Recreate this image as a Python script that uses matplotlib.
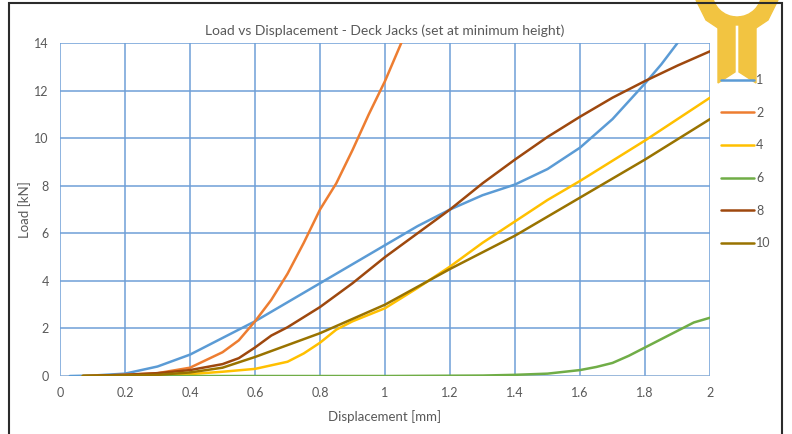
import numpy as np
import matplotlib
matplotlib.use('Agg')
import matplotlib.pyplot as plt
from matplotlib.patches import Rectangle, Polygon, Wedge

plt.rcParams['font.family'] = ['Lato', 'DejaVu Sans']

# ============================================================================
# DATOS
# ============================================================================
x1 = [0.03, 0.1, 0.2, 0.3, 0.4, 0.5, 0.6, 0.7, 0.8, 0.9, 1.0, 1.1, 1.2, 1.3, 1.4, 1.5, 1.6, 1.7, 1.8, 1.85, 1.9]
y1 = [0.0, 0.02, 0.1, 0.4, 0.9, 1.6, 2.3, 3.1, 3.9, 4.7, 5.5, 6.3, 7.0, 7.6, 8.05, 8.7, 9.6, 10.8, 12.3, 13.1, 14.0]

x2 = [0.07, 0.2, 0.3, 0.4, 0.5, 0.55, 0.6, 0.65, 0.7, 0.75, 0.8, 0.85, 0.9, 0.95, 1.0, 1.05]
y2 = [0.0, 0.05, 0.12, 0.35, 1.0, 1.5, 2.3, 3.2, 4.3, 5.6, 7.0, 8.1, 9.5, 11.0, 12.4, 14.0]

x4 = [0.07, 0.3, 0.4, 0.5, 0.6, 0.7, 0.75, 0.8, 0.85, 0.9, 1.0, 1.1, 1.2, 1.3, 1.4, 1.5, 1.6, 1.7, 1.8, 1.9, 2.0]
y4 = [0.0, 0.03, 0.08, 0.18, 0.3, 0.6, 0.95, 1.4, 1.95, 2.3, 2.85, 3.7, 4.6, 5.6, 6.5, 7.4, 8.2, 9.05, 9.9, 10.8, 11.7]

x6 = [0.07, 0.5, 1.0, 1.3, 1.4, 1.5, 1.6, 1.65, 1.7, 1.75, 1.8, 1.85, 1.9, 1.95, 2.0]
y6 = [0.0, 0.0, 0.0, 0.02, 0.05, 0.1, 0.25, 0.38, 0.55, 0.85, 1.2, 1.55, 1.9, 2.25, 2.45]

x8 = [0.07, 0.2, 0.3, 0.4, 0.5, 0.55, 0.6, 0.65, 0.7, 0.8, 0.9, 1.0, 1.1, 1.2, 1.3, 1.4, 1.5, 1.6, 1.7, 1.8, 1.9, 2.0]
y8 = [0.0, 0.05, 0.12, 0.25, 0.5, 0.75, 1.2, 1.7, 2.05, 2.9, 3.9, 5.0, 6.0, 7.0, 8.1, 9.1, 10.05, 10.9, 11.7, 12.4, 13.05, 13.65]

x10 = [0.07, 0.3, 0.4, 0.5, 0.6, 0.7, 0.8, 0.85, 0.9, 1.0, 1.1, 1.2, 1.3, 1.4, 1.5, 1.6, 1.7, 1.8, 1.9, 2.0]
y10 = [0.0, 0.05, 0.15, 0.35, 0.8, 1.3, 1.8, 2.1, 2.4, 3.0, 3.75, 4.5, 5.2, 5.9, 6.7, 7.5, 8.3, 9.1, 9.95, 10.8]

series = [('1', x1, y1, '#5b9bd5'),
          ('2', x2, y2, '#ed7d31'),
          ('4', x4, y4, '#ffc000'),
          ('6', x6, y6, '#70ad47'),
          ('8', x8, y8, '#9e480e'),
          ('10', x10, y10, '#997300')]

xticks = [0, 0.2, 0.4, 0.6, 0.8, 1, 1.2, 1.4, 1.6, 1.8, 2]
xticklabels = ['0', '0.2', '0.4', '0.6', '0.8', '1', '1.2', '1.4', '1.6', '1.8', '2']
yticks = [0, 2, 4, 6, 8, 10, 12, 14]

# ============================================================================
# GRAFICO
# ============================================================================
fig = plt.figure(figsize=(7.92, 4.34), dpi=100)
ax = fig.add_axes([0.0758, 0.1336, 0.8207, 0.7674])

for name, xs, ys, c in series:
    ax.plot(xs, ys, color=c, linewidth=1.8, label=name, solid_capstyle='round')

ax.set_xlim(0, 2)
ax.set_ylim(0, 14)
ax.set_xticks(xticks)
ax.set_xticklabels(xticklabels)
ax.set_yticks(yticks)
ax.grid(True, color='#6fa0d8', linewidth=1.3, alpha=0.85)
ax.set_axisbelow(True)
for s in ax.spines.values():
    s.set_visible(False)
ax.axhline(0, color='#d0d0d0', linewidth=1, zorder=1)
ax.tick_params(length=0, colors='#595959', labelsize=9, pad=8)
ax.set_xlabel('Displacement [mm]', color='#595959', fontsize=9.5, labelpad=8)
ax.set_ylabel('Load [kN]', color='#595959', fontsize=9.5, labelpad=2)
ax.set_title('Load vs Displacement - Deck Jacks (set at minimum height)',
             color='#595959', fontsize=10, pad=6)

leg = ax.legend(loc='upper left', bbox_to_anchor=(1.0, 0.94), frameon=False,
                fontsize=9, labelspacing=1.65, handlelength=2.6, handletextpad=0.2)
for t in leg.get_texts():
    t.set_color('#595959')

# marco exterior
fig.patches.append(Rectangle((0.011, -0.01), 0.976, 1.003, transform=fig.transFigure,
                             fill=False, edgecolor='#2b2b2b', linewidth=1.5))

# logo amarillo (esquina superior derecha), en pixeles -> pulgadas, detras de la leyenda
logo = '#f2c441'
tr = fig.dpi_scale_trans


def px(x, y):
    return (x / 100, (434 - y) / 100)


logo_parts = [
    Wedge(px(737, -8), 0.33, 180, 360, width=0.08),
    Polygon([px(718, 17), px(735, 17), px(735, 72), px(718, 83)], closed=True),
    Polygon([px(739, 17), px(756, 17), px(756, 83), px(739, 72)], closed=True),
    Polygon([px(696, 0), px(705, 0), px(711, 12), px(718, 17), px(718, 28), px(706, 20)], closed=True),
    Polygon([px(778, 0), px(769, 0), px(763, 12), px(756, 17), px(756, 28), px(768, 20)], closed=True),
]
for p in logo_parts:
    p.set_transform(tr)
    p.set_color(logo)
    p.set_zorder(-1)
    fig.patches.append(p)

plt.savefig('out.png', dpi=100)
plt.close()
